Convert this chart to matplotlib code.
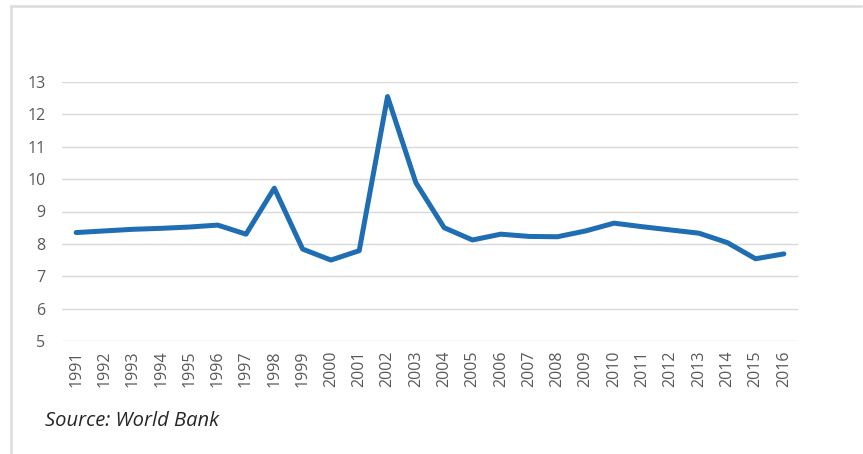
import matplotlib.pyplot as plt
from matplotlib.lines import Line2D

years = [str(y) for y in range(1991, 2017)]
values = [8.35, 8.40, 8.45, 8.48, 8.52, 8.58, 8.30, 9.72, 7.84, 7.50,
          7.79, 12.55, 9.89, 8.50, 8.12, 8.30, 8.23, 8.22, 8.40, 8.64,
          8.53, 8.43, 8.33, 8.04, 7.54, 7.69]
yticks = [5, 6, 7, 8, 9, 10, 11, 12, 13]

fig = plt.figure(figsize=(8.63, 4.54), dpi=100)
ax = fig.add_axes([62/863, 1-341/454, (798-62)/863, (341-82)/454])

ax.plot(range(len(years)), values, color='#1f6db3', lw=3.6, solid_joinstyle='round', solid_capstyle='round')

ax.set_xlim(-0.5, len(years)-0.5)
ax.set_ylim(5, 13)
ax.set_yticks(yticks)
ax.set_xticks(range(len(years)))
ax.set_xticklabels(years, rotation=90)
ax.tick_params(length=0, labelcolor='#595959', labelsize=11.5)
ax.tick_params(axis='y', pad=12)
ax.tick_params(axis='x', pad=7)
for lab in ax.get_xticklabels() + ax.get_yticklabels():
    lab.set_fontfamily('Open Sans')

ax.grid(axis='y', color='#d9d9d9', lw=1)
ax.set_axisbelow(True)
for s in ax.spines.values():
    s.set_visible(False)

# Rahmen oben und links
fig.add_artist(Line2D([11/863, 11/863], [0, 1-6/454], color='#dcdcdc', lw=1.8))
fig.add_artist(Line2D([11/863, 861/863], [1-6/454, 1-6/454], color='#dcdcdc', lw=1.8))

fig.text(45/863, 1-421/454, 'Source: World Bank', fontsize=14.5, style='italic',
         family='Open Sans', color='#262626', va='center', ha='left')

fig.savefig('out.png', dpi=100, facecolor='white')
